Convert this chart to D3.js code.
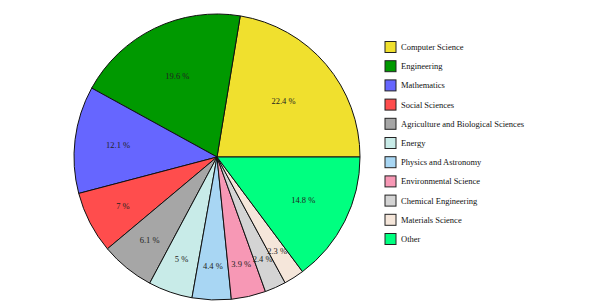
<!DOCTYPE html>
<html>
<head>
<meta charset="utf-8">
<script src="https://cdn.jsdelivr.net/npm/d3@7"></script>
<style>
  body { margin: 0; background: #fff; }
  text { font-family: "Liberation Serif", "DejaVu Serif", serif; }
</style>
</head>
<body>
<svg id="chart" width="589" height="304"></svg>
<script>
// data
let categories = ["Computer Science", "Engineering", "Mathematics", "Social Sciences",
    "Agriculture and Biological Sciences", "Energy", "Physics and Astronomy",
    "Environmental Science", "Chemical Engineering", "Materials Science", "Other"];
let shares = [22.4, 19.6, 12.1, 7, 6.1, 5, 4.4, 3.9, 2.4, 2.3, 14.8];
let colors = ["#f0e02e", "#009900", "#6666ff", "#ff4d4d", "#a6a6a6", "#c8ebe8",
    "#a8d6f3", "#f798b5", "#d4d4d4", "#f5e6da", "#00ff80"];

let svg = d3.select("#chart");
let cx = 217, cy = 157, radius = 143;

let data = categories.map(function(c, i) { return {name: c, value: shares[i], color: colors[i]}; });

// slices run counter-clockwise from 3 o'clock
let pie = d3.pie()
    .sort(null)
    .value(function(d) { return d.value; })
    .startAngle(Math.PI / 2)
    .endAngle(Math.PI / 2 - 2 * Math.PI);

let arc = d3.arc().innerRadius(0).outerRadius(radius);

let g = svg.append("g").attr("transform", `translate(${cx}, ${cy})`);

let slices = g.selectAll(".slice")
    .data(pie(data))
    .enter().append("g")
    .attr("class", "slice");

slices.append("path")
    .attr("d", arc)
    .attr("fill", function(d) { return d.data.color; })
    .attr("stroke", "#111")
    .attr("stroke-width", 1);

// smaller slices get their label pushed further out
slices.append("text")
    .attr("transform", function(d) {
        let r = radius * (0.8 - 0.85 * d.data.value / 100);
        let a = (d.startAngle + d.endAngle) / 2;
        return `translate(${r * Math.sin(a)}, ${-r * Math.cos(a) + 3})`;
    })
    .attr("text-anchor", "middle")
    .attr("font-size", "8.5px")
    .attr("fill", "#222")
    .text(function(d) { return d.data.value + " %"; });

// legend
let legend = svg.append("g").attr("transform", "translate(385, 47)");
let rows = legend.selectAll(".row")
    .data(data)
    .enter().append("g")
    .attr("class", "row")
    .attr("transform", function(d, i) { return `translate(0, ${i * 19.2})`; });

rows.append("rect")
    .attr("x", 0)
    .attr("y", -5.5)
    .attr("width", 11)
    .attr("height", 11)
    .attr("fill", function(d) { return d.color; })
    .attr("stroke", "#222")
    .attr("stroke-width", 1);

rows.append("text")
    .attr("x", 16)
    .attr("y", 3)
    .attr("font-size", "8.5px")
    .attr("fill", "#111")
    .text(function(d) { return d.name; });
</script>
</body>
</html>
